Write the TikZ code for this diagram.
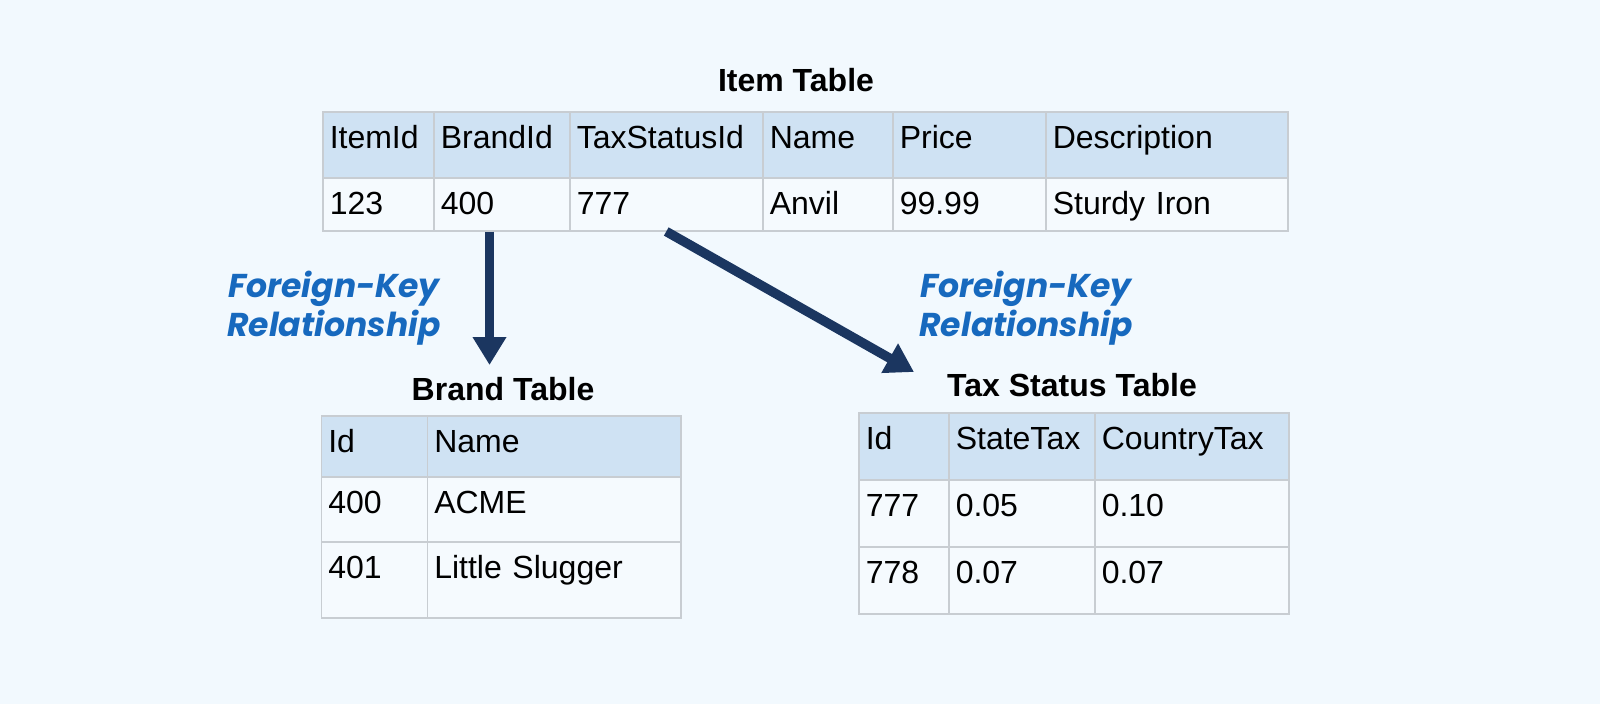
\documentclass[tikz,border=0pt]{standalone}
\usepackage{fontspec}
\setmainfont{Liberation Sans}
\newfontfamily\lblfont{Poppins}
\usetikzlibrary{arrows.meta}
\definecolor{bgc}{RGB}{242,249,254}
\definecolor{hdrc}{RGB}{207,226,243}
\definecolor{bodyc}{RGB}{245,250,254}
\definecolor{gridc}{RGB}{200,205,210}
\definecolor{lblc}{RGB}{23,105,190}
\definecolor{arrc}{RGB}{27,54,96}
\tikzset{
  cellbox/.style={draw=gridc, line width=1.5pt, anchor=north west, inner xsep=7pt, inner ysep=0pt,
    text height=37pt, align=left, font=\fontsize{32}{38}\selectfont, text=black},
  tabtitle/.style={anchor=base, inner sep=0pt, font=\fontsize{32}{38}\selectfont\bfseries, text=black},
  fklabel/.style={anchor=base, align=center, inner sep=0pt, text=lblc,
    font=\fontsize{33}{39}\selectfont\lblfont\bfseries\itshape},
  fkarrow/.style={draw=arrc, line width=9.5pt, -{Triangle[width=32pt,length=28pt]}, arrc}
}
\newcommand\tcell[7]{%
  \pgfmathsetmacro\tcw{#4-14}\pgfmathsetmacro\tcd{#5-37}%
  \node[cellbox,fill=#6,text width=\tcw pt,text depth=\tcd pt] (#1) at (#2,#3) {#7};}
\begin{document}
\begin{tikzpicture}[x=1pt,y=-1pt]
\path[fill=bgc] (0,0) rectangle (1600,704);
\useasboundingbox (0,0) rectangle (1600,704);
% Item table
\node[tabtitle] (ititle) at (796,91) {Item Table};
\tcell{h1}{322}{111}{111}{66}{hdrc}{ItemId}
\tcell{h2}{433}{111}{136}{66}{hdrc}{BrandId}
\tcell{h3}{569}{111}{193}{66}{hdrc}{TaxStatusId}
\tcell{h4}{762}{111}{130}{66}{hdrc}{Name}
\tcell{h5}{892}{111}{153}{66}{hdrc}{Price}
\tcell{h6}{1045}{111}{242}{66}{hdrc}{Description}
\tcell{v1}{322}{177}{111}{53}{bodyc}{123}
\tcell{v2}{433}{177}{136}{53}{bodyc}{400}
\tcell{v3}{569}{177}{193}{53}{bodyc}{777}
\tcell{v4}{762}{177}{130}{53}{bodyc}{Anvil}
\tcell{v5}{892}{177}{153}{53}{bodyc}{99.99}
\tcell{v6}{1045}{177}{242}{53}{bodyc}{Sturdy Iron}
% Brand table
\node[tabtitle] (btitle) at (503,400) {Brand Table};
\tcell{bh1}{320.5}{415}{106}{61}{hdrc}{Id}
\tcell{bh2}{426.5}{415}{253.5}{61}{hdrc}{Name}
\tcell{b11}{320.5}{476}{106}{65}{bodyc}{400}
\tcell{b12}{426.5}{476}{253.5}{65}{bodyc}{ACME}
\tcell{b21}{320.5}{541}{106}{76}{bodyc}{401}
\tcell{b22}{426.5}{541}{253.5}{76}{bodyc}{Little Slugger}
% Tax status table
\node[tabtitle] (ttitle) at (1072,396) {Tax Status Table};
\tcell{th1}{858}{412}{90}{67}{hdrc}{Id}
\tcell{th2}{948}{412}{146}{67}{hdrc}{StateTax}
\tcell{th3}{1094}{412}{194}{67}{hdrc}{CountryTax}
\tcell{t11}{858}{479}{90}{67}{bodyc}{777}
\tcell{t12}{948}{479}{146}{67}{bodyc}{0.05}
\tcell{t13}{1094}{479}{194}{67}{bodyc}{0.10}
\tcell{t21}{858}{546}{90}{67}{bodyc}{778}
\tcell{t22}{948}{546}{146}{67}{bodyc}{0.07}
\tcell{t23}{1094}{546}{194}{67}{bodyc}{0.07}
% labels
\node[fklabel] (lab1) at (334,336) {Foreign-Key\\Relationship};
\node[fklabel] (lab2) at (1026,336) {Foreign-Key\\Relationship};
% arrows
\coordinate (bt) at (489.5,365);
\coordinate (tt) at (914,372);
\draw[fkarrow] (v2.south -| bt) -- (bt);
\draw[fkarrow] (v3.south) -- (tt);
\end{tikzpicture}
\end{document}
